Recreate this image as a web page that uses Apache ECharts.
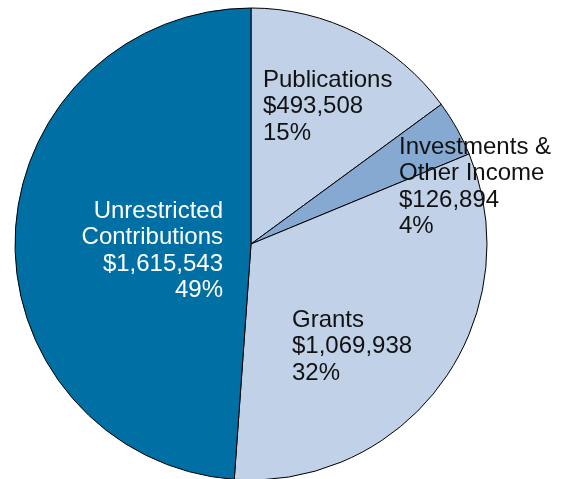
<!DOCTYPE html>
<html>
<head>
<meta charset="utf-8">
<script src="https://cdn.jsdelivr.net/npm/echarts@6/dist/echarts.min.js"></script>
<style>
html,body{margin:0;padding:0;background:#fff;}
#chart{width:564px;height:479px;}
</style>
</head>
<body>
<div id="chart"></div>
<script>
var categories = ['Publications', 'Investments &\nOther Income', 'Grants', 'Unrestricted\nContributions'];
var values = [493508, 126894, 1069938, 1615543];
var colors = ['#c1d1e7', '#86a9d1', '#c1d1e7', '#006fa3'];
var textColors = ['#111', '#111', '#111', '#ffffff'];
// label anchor positions (layout only)
var labelPos = [
  {x: 263, y: 67, align: 'left'},
  {x: 399, y: 134, align: 'left'},
  {x: 292, y: 307, align: 'left'},
  {x: 223, y: 198, align: 'right'}
];

function fmtMoney(v) {
  return '$' + v.toString().replace(/\B(?=(\d{3})+(?!\d))/g, ',');
}

var chart = echarts.init(document.getElementById('chart'), null, {renderer: 'canvas'});
chart.setOption({
  animation: false,
  backgroundColor: '#ffffff',
  series: [{
    type: 'pie',
    center: [251, 244],
    radius: 236,
    startAngle: 90,
    clockwise: true,
    percentPrecision: 0,
    avoidLabelOverlap: false,
    emphasis: {disabled: true},
    itemStyle: {borderColor: '#000', borderWidth: 1},
    label: {
      show: true,
      position: 'inside',
      fontFamily: 'Liberation Sans, Arial, sans-serif',
      fontSize: 24,
      lineHeight: 26.5,
      formatter: function (p) {
        return p.name + '\n' + fmtMoney(p.value) + '\n' + p.percent + '%';
      }
    },
    labelLine: {show: false},
    labelLayout: function (params) {
      var lp = labelPos[params.dataIndex];
      return {x: lp.x, y: lp.y, align: lp.align, verticalAlign: 'top'};
    },
    data: categories.map(function (c, i) {
      return {
        name: c,
        value: values[i],
        itemStyle: {color: colors[i]},
        label: {color: textColors[i], align: labelPos[i].align}
      };
    })
  }]
});
</script>
</body>
</html>
